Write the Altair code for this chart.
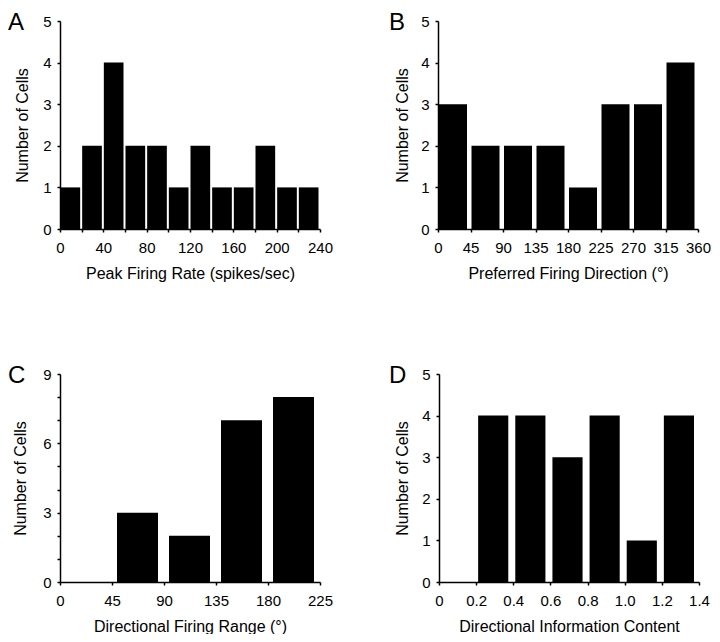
import altair as alt
import pandas as pd

FONT = "Liberation Sans"

# Panel A: Peak firing rate (spikes/sec)
a_start = [0, 20, 40, 60, 80, 100, 120, 140, 160, 180, 200, 220]
a_end = [20, 40, 60, 80, 100, 120, 140, 160, 180, 200, 220, 240]
a_counts = [1, 2, 4, 2, 2, 1, 2, 1, 1, 2, 1, 1]
a_xticks = [0, 20, 40, 60, 80, 100, 120, 140, 160, 180, 200, 220, 240]

# Panel B: Preferred firing direction (deg)
b_start = [0, 45, 90, 135, 180, 225, 270, 315]
b_end = [45, 90, 135, 180, 225, 270, 315, 360]
b_counts = [3, 2, 2, 2, 1, 3, 3, 4]
b_xticks = [0, 45, 90, 135, 180, 225, 270, 315, 360]

# Panel C: Directional firing range (deg)
c_start = [0, 45, 90, 135, 180]
c_end = [45, 90, 135, 180, 225]
c_counts = [0, 3, 2, 7, 8]
c_xticks = [0, 45, 90, 135, 180, 225]

# Panel D: Directional information content
d_start = [0.0, 0.2, 0.4, 0.6, 0.8, 1.0, 1.2]
d_end = [0.2, 0.4, 0.6, 0.8, 1.0, 1.2, 1.4]
d_counts = [0, 4, 4, 3, 4, 1, 4]
d_xticks = [0.0, 0.2, 0.4, 0.6, 0.8, 1.0, 1.2, 1.4]

y5_ticks = [0, 1, 2, 3, 4, 5]
y9_ticks = [0, 1, 2, 3, 4, 5, 6, 7, 8, 9]


def panel(letter, starts, ends, counts, xdom, xticks, xlabel_expr, xtitle,
          ydom, yticks, ylabel_expr, x_off, x2_off, letter_dx, ytitle_pad):
    df = pd.DataFrame({"start": starts, "end": ends, "count": counts})
    xaxis = dict(values=xticks, title=xtitle)
    if xlabel_expr:
        xaxis["labelExpr"] = xlabel_expr
    yaxis = dict(values=yticks, title="Number of Cells", titlePadding=ytitle_pad)
    if ylabel_expr:
        yaxis["labelExpr"] = ylabel_expr
    bars = alt.Chart(df).mark_bar(
        color="black", xOffset=x_off, x2Offset=x2_off
    ).encode(
        x=alt.X("start:Q", scale=alt.Scale(domain=xdom, nice=False, zero=False),
                axis=alt.Axis(**xaxis)),
        x2="end:Q",
        y=alt.Y("count:Q", scale=alt.Scale(domain=ydom, nice=False),
                axis=alt.Axis(**yaxis)),
        y2=alt.datum(0),
    )
    lab = alt.Chart(pd.DataFrame({"t": [letter]})).mark_text(
        align="left", baseline="alphabetic", fontSize=24, font=FONT, color="black"
    ).encode(text="t:N", x=alt.value(letter_dx), y=alt.value(8.5))
    return alt.layer(bars, lab).properties(width=260, height=208)


A = panel("A", a_start, a_end, a_counts, [0, 240], a_xticks,
          "datum.value % 40 == 0 ? datum.label : ''",
          "Peak Firing Rate (spikes/sec)", [0, 5], y5_ticks, None,
          0.5, -1.5, -52, 12)
B = panel("B", b_start, b_end, b_counts, [0, 360], b_xticks, None,
          "Preferred Firing Direction (°)", [0, 5], y5_ticks, None,
          1, -3.5, -49, 10)
C = panel("C", c_start, c_end, c_counts, [0, 225], c_xticks, None,
          "Directional Firing Range (°)", [0, 9], y9_ticks,
          "datum.value % 3 == 0 ? datum.label : ''",
          5, -6, -52, 14)
D = panel("D", d_start, d_end, d_counts, [0, 1.4], d_xticks,
          "datum.value == 0 ? '0' : format(datum.value, '.1f')",
          "Directional Information Content", [0, 5], y5_ticks, None,
          2, -5, -50, 11)

chart = alt.vconcat(
    alt.hconcat(A, B, spacing=56),
    alt.hconcat(C, D, spacing=56),
    spacing=82,
).properties(
    padding={"left": 0, "top": 2, "right": 0, "bottom": 0}
).configure_view(
    strokeWidth=0
).configure_axis(
    grid=False,
    domainColor="black",
    domainWidth=1.5,
    tickColor="black",
    tickWidth=1.5,
    tickSize=3,
    labelColor="black",
    labelFont=FONT,
    labelFontSize=15,
    labelPadding=6,
    labelFlush=False,
    labelOverlap=False,
    labelBound=False,
    titleColor="black",
    titleFont=FONT,
    titleFontSize=16,
    titleFontWeight="normal",
).configure_axisX(
    labelPadding=8,
    titlePadding=10,
)

chart.save("out.html", embed_options={"renderer": "svg", "actions": False})
